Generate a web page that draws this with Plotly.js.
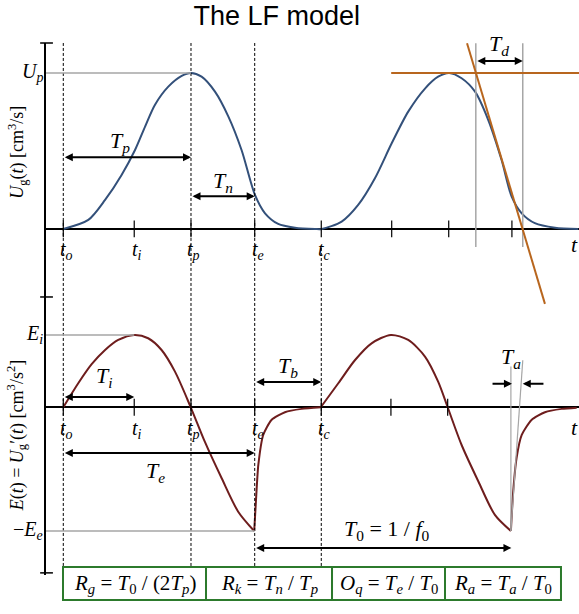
<!DOCTYPE html>
<html>
<head>
<meta charset="utf-8">
<script src="https://cdn.plot.ly/plotly-3.0.1.min.js"></script>
<style>
  html, body { margin: 0; padding: 0; background: #ffffff; }
  #lfChart { width: 579px; height: 614px; }
</style>
</head>
<body>
<div id="lfChart"></div>
<script>
// Instants of one cycle of the LF model (time in arbitrary units, one period = 10)
let eventNames = ['o', 'i', 'p', 'e', 'c'];
let eventTimes = [0, 2.75, 4.95, 7.42, 10];
let period = 10;

// Glottal flow Ug(t), two cycles (Up = 1)
let flowTime = [0, 0.97, 1.62, 2.26, 2.78, 3.17, 3.55, 4.07, 4.59, 4.95, 5.36, 5.88, 6.40, 6.91, 7.43, 7.82, 8.33, 8.98, 9.76,
                10.02, 10.79, 11.43, 12.08, 12.73, 13.37, 14.02, 14.53, 14.96, 15.44, 15.96, 16.47, 16.99, 17.38, 17.77, 18.28, 19.06, 19.96];
let flowValue = [0, 0.058, 0.186, 0.346, 0.506, 0.656, 0.795, 0.912, 0.981, 1, 0.976, 0.88, 0.72, 0.506, 0.218, 0.10, 0.032, 0.008, 0,
                 0, 0.047, 0.154, 0.325, 0.549, 0.752, 0.90, 0.976, 1, 0.966, 0.88, 0.70, 0.442, 0.207, 0.10, 0.037, 0.008, 0];

// Flow derivative E(t): open phase (to .. te) of both cycles (Ee = 1)
let openTime = [0, 0.58, 1.10, 1.62, 2.13, 2.75, 3.29, 3.81, 4.33, 4.94, 5.49, 6.14, 6.78, 7.40, null,
                9.98, 10.66, 11.31, 11.95, 12.70, 13.37, 14.02, 14.53, 14.90, 15.44, 16.09, 16.73, 17.35];
let openValue = [0, 0.194, 0.348, 0.463, 0.544, 0.585, 0.558, 0.463, 0.288, 0, -0.28, -0.574, -0.844, -1, null,
                 0, 0.194, 0.382, 0.517, 0.585, 0.544, 0.41, 0.207, 0, -0.305, -0.60, -0.87, -1];

// Flow derivative E(t): return phase (te .. tc) of both cycles
let returnTime = [7.40, 7.47, 7.56, 7.75, 8.07, 8.59, 9.24, 9.98, null,
                  17.35, 17.44, 17.57, 17.77, 18.15, 18.67, 19.32, 19.90];
let returnValue = [-1, -0.75, -0.466, -0.224, -0.103, -0.04, -0.013, 0, null,
                   -1, -0.68, -0.41, -0.224, -0.103, -0.04, -0.013, -0.003];

// Small tick marks on the two time axes
let flowTicks = [0, 2.75, 4.95, 7.42, 10, 12.73, 14.94, 17.39];
let derivTicks = [0, 2.75, 4.95, 7.42, 10, 12.70, 14.90];

// Levels and construction points
let eiLevel = 0.585;
let tdEdges = [15.99, 17.81];
let taEdges = [17.39, 17.81];

// Parameter boxes under the chart
let boxTexts = [
    '<i>R<sub>g</sub></i> = <i>T</i><sub>0</sub> / (2<i>T<sub>p</sub></i>)',
    '<i>R<sub>k</sub></i> = <i>T<sub>n</sub></i> / <i>T<sub>p</sub></i>',
    '<i>O<sub>q</sub></i> = <i>T<sub>e</sub></i> / <i>T</i><sub>0</sub>',
    '<i>R<sub>a</sub></i> = <i>T<sub>a</sub></i> / <i>T</i><sub>0</sub>'
];

let serif = 'Liberation Serif, Times New Roman, serif';
let xMin = -0.67, xMax = 19.99;

let to = eventTimes[0], ti = eventTimes[1], tp = eventTimes[2], te = eventTimes[3], tc = eventTimes[4];

// Panah dua arah untuk durasi
function spanArrow(x0, x1, level, yref) {
    return {
        x: x1, y: level, ax: x0, ay: level,
        xref: 'x', yref: yref, axref: 'x', ayref: yref,
        text: '', showarrow: true,
        arrowhead: 2, startarrowhead: 2, arrowside: 'end+start',
        arrowsize: 0.8, startarrowsize: 0.8, arrowwidth: 2,
        arrowcolor: 'black', standoff: 0, startstandoff: 0
    };
}

function oneArrow(x0, x1, level, yref) {
    return {
        x: x1, y: level, ax: x0, ay: level,
        xref: 'x', yref: yref, axref: 'x', ayref: yref,
        text: '', showarrow: true, arrowhead: 2, arrowsize: 0.8,
        arrowwidth: 2, arrowcolor: 'black', standoff: 0
    };
}

function label(text, x, y, yref, size) {
    return {
        x: x, y: y, xref: 'x', yref: yref, text: text, showarrow: false,
        font: { family: serif, size: size || 22, color: 'black' },
        xanchor: 'center', yanchor: 'middle'
    };
}

function vline(x, y0, y1, yref, color, width, dash) {
    return {
        type: 'line', xref: 'x', yref: yref, x0: x, x1: x, y0: y0, y1: y1,
        line: { color: color, width: width, dash: dash || 'solid' }
    };
}

function hline(x0, x1, y, yref, color, width) {
    return {
        type: 'line', xref: 'x', yref: yref, x0: x0, x1: x1, y0: y, y1: y,
        line: { color: color, width: width }
    };
}

// Traces
let flowTrace = {
    x: flowTime, y: flowValue, mode: 'lines', yaxis: 'y',
    line: { color: '#33507a', width: 2, shape: 'spline', smoothing: 0.8 },
    hoverinfo: 'skip'
};

let openTrace = {
    x: openTime, y: openValue, mode: 'lines', yaxis: 'y2', connectgaps: false,
    line: { color: '#6e1d1d', width: 2, shape: 'spline', smoothing: 0.8 },
    hoverinfo: 'skip'
};

let returnTrace = {
    x: returnTime, y: returnValue, mode: 'lines', yaxis: 'y2', connectgaps: false,
    line: { color: '#6e1d1d', width: 2, shape: 'spline', smoothing: 0.6 },
    hoverinfo: 'skip'
};

let flowTickTrace = {
    x: flowTicks, y: flowTicks.map(function() { return 0; }), mode: 'markers', yaxis: 'y',
    marker: { symbol: 'line-ns-open', size: 12, color: 'black', line: { color: 'black', width: 1.2 } },
    hoverinfo: 'skip', cliponaxis: false
};

let derivTickTrace = {
    x: derivTicks, y: derivTicks.map(function() { return 0; }), mode: 'markers', yaxis: 'y2',
    marker: { symbol: 'line-ns-open', size: 12, color: 'black', line: { color: 'black', width: 1.2 } },
    hoverinfo: 'skip', cliponaxis: false
};

// Shapes: dashed event lines, construction lines, boxes
let shapes = [];
[to, tp, te].forEach(function(t) {
    shapes.push(vline(t, 0.017, 1, 'paper', 'black', 1, '3px,2px'));
});
shapes.push(vline(tc, 0.017, 0.615, 'paper', 'black', 1, '3px,2px'));

shapes.push(hline(xMin, tp, 1, 'y', '#a6a6a6', 1.5));
shapes.push(hline(xMin, ti, eiLevel, 'y2', '#a6a6a6', 1.5));
shapes.push(hline(xMin, te, -1, 'y2', '#a6a6a6', 1.5));

tdEdges.forEach(function(t) {
    shapes.push(vline(t, -0.115, 1.19, 'y', '#a6a6a6', 1.5));
});
shapes.push(vline(taEdges[0] - 0.04, -1, 0.33, 'y2', '#a6a6a6', 1.2));
shapes.push({
    type: 'line', xref: 'x', yref: 'y2', x0: taEdges[0] - 0.04, y0: -1, x1: taEdges[1], y1: 0.38,
    line: { color: '#a6a6a6', width: 1.2 }
});

// Garis oranye untuk konstruksi Td
shapes.push(hline(12.71, xMax, 1, 'y', '#b8661e', 2));
shapes.push({
    type: 'line', xref: 'x', yref: 'y', x0: 15.65, y0: 1.19, x1: 18.67, y1: -0.48,
    line: { color: '#b8661e', width: 2 }
});

// Small ticks on the vertical axis
[1, 0.5226, 0.004].forEach(function(p) {
    shapes.push({
        type: 'line', xref: 'paper', yref: 'paper', x0: -0.011, x1: 0.013, y0: p, y1: p,
        line: { color: 'black', width: 1.5 }
    });
});

// Green boxes
let boxEdges = [0.0319, 0.3002, 0.5366, 0.7486, 0.9662];
for (let i = 0; i < boxTexts.length; i++) {
    shapes.push({
        type: 'rect', xref: 'paper', yref: 'paper',
        x0: boxEdges[i], x1: boxEdges[i + 1], y0: -0.047, y1: 0.015,
        line: { color: '#2c7a2c', width: 2 }, fillcolor: 'rgba(0,0,0,0)'
    });
}

// Annotations
let annotations = [];

for (let i = 0; i < eventNames.length; i++) {
    let txt = '<i>t<sub>' + eventNames[i] + '</sub></i>';
    ['y', 'y2'].forEach(function(ax) {
        annotations.push({
            x: eventTimes[i], y: 0, xref: 'x', yref: ax, text: txt, showarrow: false,
            font: { family: serif, size: 20, color: 'black' },
            xanchor: 'center', yanchor: 'middle', xshift: 3, yshift: -22
        });
    });
}
annotations.push(label('<i>t</i>', 19.83, -0.1, 'y', 22));
annotations.push(label('<i>t</i>', 19.83, -0.16, 'y2', 22));

annotations.push(spanArrow(to, tp, 0.46, 'y'));
annotations.push(spanArrow(tp, te, 0.21, 'y'));
annotations.push(spanArrow(tdEdges[0], tdEdges[1], 1.077, 'y'));
annotations.push(spanArrow(to, ti, 0.083, 'y2'));
annotations.push(spanArrow(to, te, -0.37, 'y2'));
annotations.push(spanArrow(te, tc, 0.205, 'y2'));
annotations.push(spanArrow(te, te + period - 0.05, -1.137, 'y2'));
annotations.push(oneArrow(16.58, taEdges[0], 0.19, 'y2'));
annotations.push(oneArrow(18.67, taEdges[1], 0.19, 'y2'));

annotations.push(label('<i>T<sub>p</sub></i>', 2.2, 0.56, 'y'));
annotations.push(label('<i>T<sub>n</sub></i>', 6.19, 0.30, 'y'));
annotations.push(label('<i>T<sub>d</sub></i>', 16.89, 1.18, 'y'));
annotations.push(label('<i>T<sub>i</sub></i>', 1.58, 0.245, 'y2'));
annotations.push(label('<i>T<sub>e</sub></i>', 3.56, -0.52, 'y2'));
annotations.push(label('<i>T<sub>b</sub></i>', 8.71, 0.326, 'y2'));
annotations.push(label('<i>T<sub>a</sub></i>', 17.35, 0.40, 'y2'));
annotations.push(label('<i>T</i><sub>0</sub> = 1 / <i>f</i><sub>0</sub>', 12.55, -0.995, 'y2'));

// Level labels left of the axis
function levelLabel(text, y, yref) {
    return {
        x: -0.002, y: y, xref: 'paper', yref: yref, text: text, showarrow: false,
        font: { family: serif, size: 20, color: 'black' }, xanchor: 'right', yanchor: 'middle'
    };
}
annotations.push(levelLabel('<i>U<sub>p</sub></i>', 1, 'y'));
annotations.push(levelLabel('<i>E<sub>i</sub></i>', eiLevel, 'y2'));
annotations.push(levelLabel('−<i>E<sub>e</sub></i>', -1, 'y2'));

// Rotated axis titles
annotations.push({
    x: -0.055, y: 0.795, xref: 'paper', yref: 'paper', textangle: -90, showarrow: false,
    text: '<i>U</i><sub>g</sub>(<i>t</i>) [cm<sup>3</sup>/s]',
    font: { family: serif, size: 18, color: 'black' }, xanchor: 'center', yanchor: 'middle'
});
annotations.push({
    x: -0.055, y: 0.262, xref: 'paper', yref: 'paper', textangle: -90, showarrow: false,
    text: '<i>E</i>(<i>t</i>) = <i>U</i><sub>g</sub>′(<i>t</i>) [cm<sup>3</sup>/s<sup>2</sup>]',
    font: { family: serif, size: 18, color: 'black' }, xanchor: 'center', yanchor: 'middle'
});

// Box texts
for (let i = 0; i < boxTexts.length; i++) {
    annotations.push({
        x: (boxEdges[i] + boxEdges[i + 1]) / 2, y: -0.016, xref: 'paper', yref: 'paper',
        text: boxTexts[i], showarrow: false,
        font: { family: serif, size: 21, color: 'black' }, xanchor: 'center', yanchor: 'middle'
    });
}

let layout = {
    width: 579, height: 614,
    margin: { l: 46, r: 0, t: 43, b: 39 },
    paper_bgcolor: 'white', plot_bgcolor: 'white',
    showlegend: false,
    title: {
        text: 'The LF model',
        font: { family: 'Liberation Sans, Arial, sans-serif', size: 27, color: 'black' },
        x: 0.478, xref: 'container', xanchor: 'center',
        y: 0.975, yref: 'container', yanchor: 'middle'
    },
    xaxis: { range: [xMin, xMax], visible: false, fixedrange: true },
    yaxis: {
        range: [-2.218, 1.192], showline: true, linecolor: 'black', linewidth: 2,
        showgrid: false, showticklabels: false, ticks: '',
        zeroline: true, zerolinecolor: 'black', zerolinewidth: 2, fixedrange: true
    },
    yaxis2: {
        range: [-1.356, 2.945], overlaying: 'y', showline: false,
        showgrid: false, showticklabels: false, ticks: '',
        zeroline: true, zerolinecolor: 'black', zerolinewidth: 2, fixedrange: true
    },
    shapes: shapes,
    annotations: annotations
};

Plotly.newPlot('lfChart', [flowTrace, openTrace, returnTrace, flowTickTrace, derivTickTrace], layout, { displayModeBar: false, staticPlot: true });
</script>
</body>
</html>
